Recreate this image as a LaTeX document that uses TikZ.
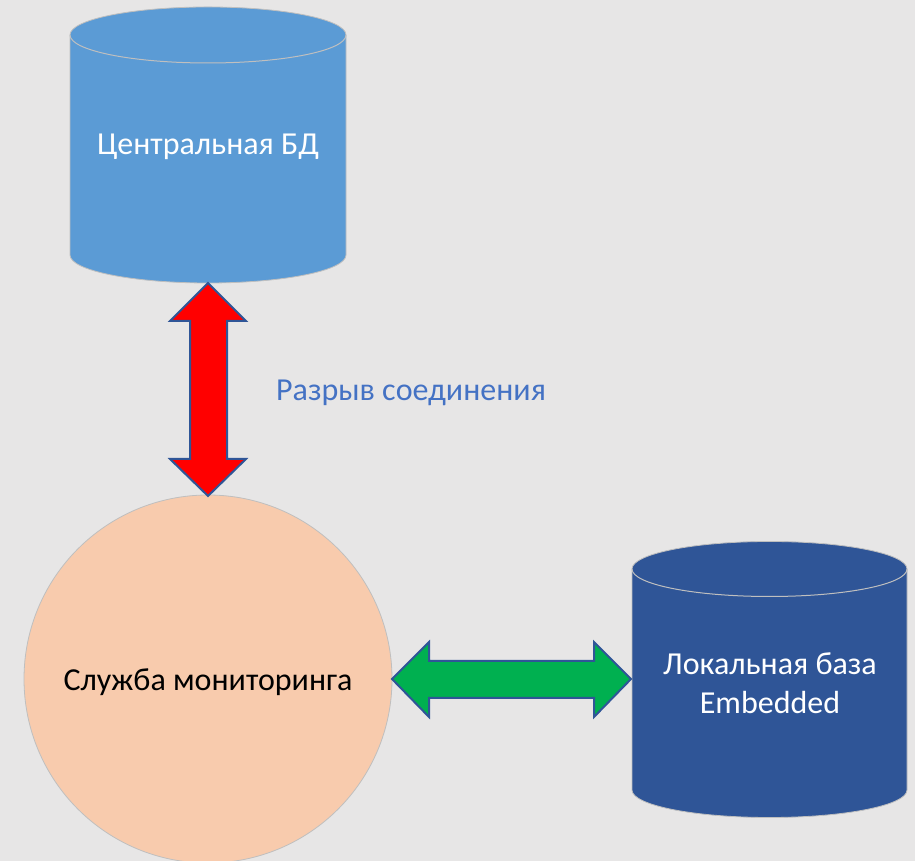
\documentclass[tikz,border=0pt]{standalone}
\usepackage{fontspec}
\setmainfont{Carlito}
\definecolor{bg}{HTML}{E7E6E6}
\definecolor{dbtop}{HTML}{5B9BD5}
\definecolor{dbloc}{HTML}{2F5597}
\definecolor{svc}{HTML}{F8CBAD}
\definecolor{edge}{HTML}{BFBFBF}
\definecolor{arrowedge}{HTML}{2F5597}
\definecolor{red1}{HTML}{FF0000}
\definecolor{green1}{HTML}{00B050}
\definecolor{lbl}{HTML}{4472C4}
\tikzset{
  dbtext/.style={text=white,font=\fontsize{32}{39}\selectfont,align=center},
  svctext/.style={text=black,font=\fontsize{32}{39}\selectfont,align=center},
  lbltext/.style={text=lbl,font=\fontsize{32}{39}\selectfont},
  blockarrow/.style={draw=arrowedge,line width=2pt,line join=miter},
  rim/.style={draw=edge,line width=1pt}
}
\begin{document}
\begin{tikzpicture}[x=1pt,y=1pt]
\fill[bg] (0,0) rectangle (915,861);
\useasboundingbox (0,0) rectangle (915,861);
% central DB cylinder
\fill[dbtop,draw=edge,line width=0.8pt] (70,826) -- (70,606) arc[start angle=180,end angle=360,x radius=138,y radius=28] -- (346,826) arc[start angle=0,end angle=180,x radius=138,y radius=28] -- cycle;
\draw[rim] (70,826) arc[start angle=180,end angle=360,x radius=138,y radius=28];
\node[dbtext] (central) at (208,714) {Центральная БД};
% local DB cylinder
\fill[dbloc,draw=edge,line width=0.8pt] (632,292) -- (632,71) arc[start angle=180,end angle=360,x radius=137.5,y radius=27.5] -- (907,292) arc[start angle=0,end angle=180,x radius=137.5,y radius=27.5] -- cycle;
\draw[rim] (632,292) arc[start angle=180,end angle=360,x radius=137.5,y radius=27.5];
\node[dbtext] (local) at (770,178) {Локальная база\\Embedded};
% service circle
\fill[svc,draw=edge,line width=0.8pt] (208,182) circle[radius=184];
\node[svctext] (service) at (208,179) {Служба мониторинга};
% anchor points of the block arrows
\coordinate (redtop) at (208,578);
\coordinate (redbot) at (208,365);
\coordinate (grleft) at (392,182);
\coordinate (grright) at (631,182);
% red double arrow (central DB <-> service)
\draw[blockarrow,fill=red1] (redtop) -- ++(38,-38) -- ++(-19,0) -- ++(0,-138) -- ++(19,0) -- (redbot) -- ++(-38,37) -- ++(20,0) -- ++(0,138) -- ++(-20,0) -- cycle;
% green double arrow (service <-> local DB)
\draw[blockarrow,fill=green1] (grleft) -- ++(37,37) -- ++(0,-19) -- ++(165,0) -- ++(0,19) -- (grright) -- ++(-37,-38) -- ++(0,19) -- ++(-165,0) -- ++(0,-19) -- cycle;
\node[lbltext] (broken) at (411,468) {Разрыв соединения};
\end{tikzpicture}
\end{document}
